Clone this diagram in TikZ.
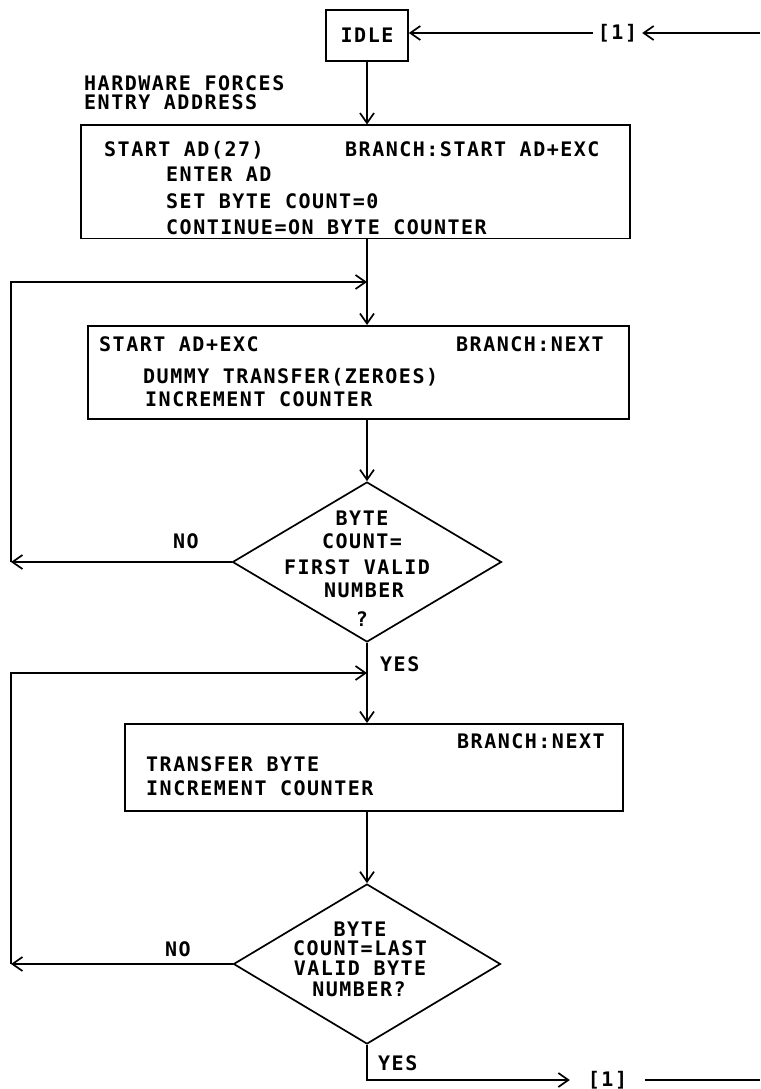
\documentclass[tikz,border=0pt]{standalone}
\usepackage{fontspec}
\usetikzlibrary{arrows.meta,shapes.geometric}
\newfontfamily\plotfont{DejaVu Sans Mono}[LetterSpace=7.5]

\begin{document}
\begin{tikzpicture}[x=1pt,y=-1pt,
  every node/.style={font={\plotfont\bfseries\fontsize{20}{24}\selectfont}, inner sep=0pt},
  box/.style={draw, line width=1.7pt, rectangle, anchor=north west},
  txt/.style={anchor=base west},
  ctxt/.style={anchor=base},
  dec/.style={draw, diamond, line width=1.7pt, minimum width=269pt, minimum height=160pt},
  flow/.style={line width=1.7pt, -{Straight Barb[length=10pt,width=14pt]}},
  plain/.style={line width=1.7pt},
]
\useasboundingbox (0,0) rectangle (760,1089);

% guide coordinates: main spine, left return rail, join points
\coordinate (spine) at (367,0);
\coordinate (lx) at (11,0);
\coordinate (j1) at (367,282);
\coordinate (j2) at (367,673);
\coordinate (rin) at (760,33);
\coordinate (rout) at (760,1080);

% idle state and the connector coming back from the end
\node[box, anchor=center, minimum width=82pt, minimum height=51pt] (idle) at (367,35.5) {IDLE};
\node[minimum width=49pt] (reftop) at (617.5,33) {[1]};
\draw[flow] (rin) -- (reftop.east);
\draw[flow] (reftop.west) -- (reftop.west -| idle.east);

\node[txt] (hw1) at (84,90.5) {HARDWARE FORCES};
\node[txt] (hw2) at (84,109.5) {ENTRY ADDRESS};

% first microinstruction
\node[box, minimum width=549pt, minimum height=113pt] (b1) at (80,124.5) {};
\node[txt] (b1a) at (104,156) {START AD(27)};
\node[txt] (b1b) at (345,156) {BRANCH:START AD+EXC};
\node[txt] (b1c) at (166,181) {ENTER AD};
\node[txt] (b1d) at (166,208) {SET BYTE COUNT=0};
\node[txt] (b1e) at (166,234) {CONTINUE=ON BYTE COUNTER};
\draw[flow] (idle.south) -- (spine |- b1.north);

% dummy transfer loop
\node[box, minimum width=541pt, minimum height=93pt] (b2) at (87,325) {};
\node[txt] (b2a) at (99,351) {START AD+EXC};
\node[txt] (b2b) at (456,351) {BRANCH:NEXT};
\node[txt] (b2c) at (143,383) {DUMMY TRANSFER(ZEROES)};
\node[txt] (b2d) at (145,406) {INCREMENT COUNTER};
\draw[flow] (spine |- b1.south) -- (spine |- b2.north);

\node[dec] (d1) at (367,562) {};
\node[ctxt] (d1a) at (362,525) {BYTE};
\node[ctxt] (d1b) at (362,548) {COUNT=};
\node[ctxt] (d1c) at (357,574) {FIRST VALID};
\node[ctxt] (d1d) at (364,597) {NUMBER};
\node[ctxt] (d1e) at (362,626) {?};
\draw[flow] (spine |- b2.south) -- (d1.north);
\node[txt] (no1) at (173,548) {NO};
\node[txt] (yes1) at (380,671) {YES};
\draw[flow] (d1.west) -- (d1.west -| lx);
\draw[flow] (d1.west -| lx) |- (j1);

% transfer loop
\node[box, minimum width=498pt, minimum height=87pt] (b3) at (124,723) {};
\node[txt] (b3a) at (457,748) {BRANCH:NEXT};
\node[txt] (b3b) at (146,771) {TRANSFER BYTE};
\node[txt] (b3c) at (146,795) {INCREMENT COUNTER};
\draw[flow] (d1.south) -- (spine |- b3.north);

\node[dec, minimum width=267pt] (d2) at (367,964) {};
\node[ctxt] (d2a) at (360,936) {BYTE};
\node[ctxt] (d2b) at (360,955) {COUNT=LAST};
\node[ctxt] (d2c) at (360,975) {VALID BYTE};
\node[ctxt] (d2d) at (359,996) {NUMBER?};
\draw[flow] (spine |- b3.south) -- (d2.north);
\node[txt] (no2) at (165,956) {NO};
\node[txt] (yes2) at (378,1070) {YES};
\draw[flow] (d2.west) -- (d2.west -| lx);
\draw[flow] (d2.west -| lx) |- (j2);

% exit back to idle
\node[minimum width=75pt] (refbot) at (607.5,1080) {[1]};
\draw[flow] (d2.south) |- (refbot.west);
\draw[plain] (refbot.east) -- (rout);
\end{tikzpicture}
\end{document}
